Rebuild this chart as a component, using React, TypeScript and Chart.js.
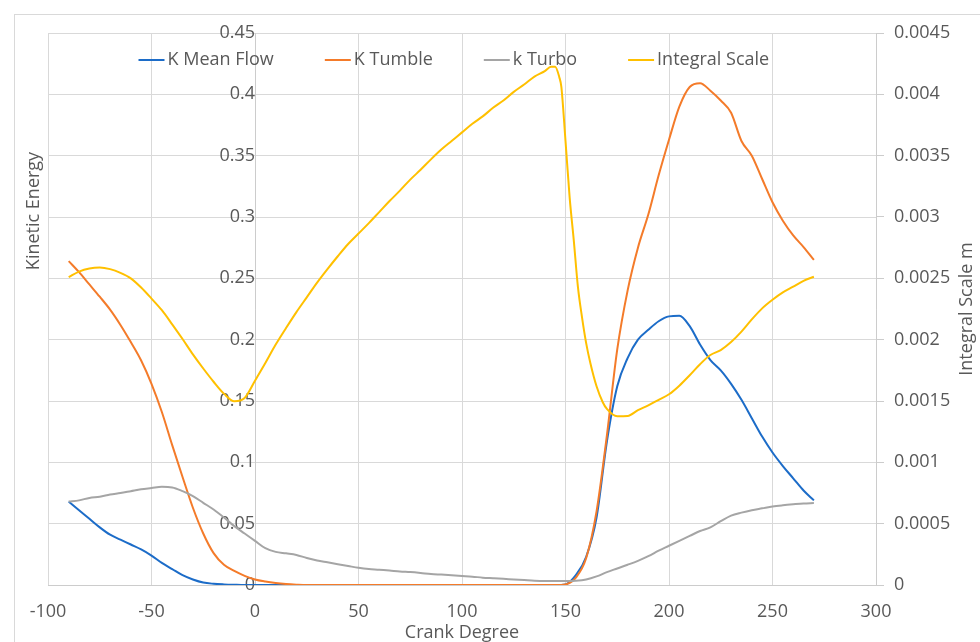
import React, { useEffect, useRef } from "react";
import { Chart, registerables } from "chart.js";

Chart.register(...registerables);

// ---------- data (10 values per row) ----------
const crankDeg = [
  -90, -85, -80, -75, -70, -65, -60, -55, -50, -45,
  -40, -35, -30, -25, -20, -15, -10, -5, 0, 5,
  10, 15, 20, 25, 30, 35, 40, 45, 50, 55,
  60, 65, 70, 75, 80, 85, 90, 95, 100, 105,
  110, 115, 120, 125, 130, 135, 140, 145, 150, 155,
  160, 165, 170, 175, 180, 185, 190, 195, 200, 205,
  210, 215, 220, 225, 230, 235, 240, 245, 250, 255,
  260, 265, 270,
];

const kMeanFlow = [
  0.068, 0.061, 0.054, 0.047, 0.041, 0.037, 0.033, 0.029, 0.024, 0.018,
  0.013, 0.008, 0.0045, 0.002, 0.001, 0.0005, 0.0002, 0, 0, 0,
  0, 0, 0, 0, 0, 0, 0, 0, 0, 0,
  0, 0, 0, 0, 0, 0, 0, 0, 0, 0,
  0, 0, 0, 0, 0, 0, 0, 0, 0.0005, 0.008,
  0.023, 0.055, 0.117, 0.162, 0.185, 0.2, 0.208, 0.215, 0.219, 0.2195,
  0.211, 0.196, 0.1834, 0.175, 0.164, 0.151, 0.136, 0.121, 0.108, 0.097,
  0.087, 0.077, 0.069,
];

const kTumble = [
  0.264, 0.255, 0.245, 0.235, 0.2245, 0.212, 0.198, 0.183, 0.164, 0.141,
  0.114, 0.088, 0.063, 0.042, 0.026, 0.0165, 0.0115, 0.0075, 0.0045, 0.0028,
  0.0016, 0.0008, 0.0003, 0, 0, 0, 0, 0, 0, 0,
  0, 0, 0, 0, 0, 0, 0, 0, 0, 0,
  0, 0, 0, 0, 0, 0, 0, 0, 0.0005, 0.006,
  0.022, 0.06, 0.122, 0.192, 0.24, 0.275, 0.302, 0.334, 0.363, 0.39,
  0.406, 0.409, 0.403, 0.395, 0.385, 0.362, 0.35, 0.331, 0.312, 0.297,
  0.285, 0.2755, 0.265,
];

const kTurbo = [
  0.068, 0.069, 0.071, 0.072, 0.0737, 0.075, 0.0765, 0.078, 0.079, 0.08,
  0.0795, 0.0765, 0.0725, 0.067, 0.0615, 0.055, 0.048, 0.042, 0.036, 0.03,
  0.027, 0.0258, 0.0245, 0.022, 0.02, 0.0185, 0.017, 0.0155, 0.014, 0.013,
  0.0125, 0.0118, 0.011, 0.0105, 0.0098, 0.009, 0.0085, 0.008, 0.0074, 0.0068,
  0.006, 0.0055, 0.005, 0.0045, 0.004, 0.0035, 0.0033, 0.0033, 0.0033, 0.0035,
  0.0045, 0.007, 0.0105, 0.0135, 0.0165, 0.0197, 0.0235, 0.028, 0.032, 0.036,
  0.04, 0.044, 0.047, 0.052, 0.0565, 0.059, 0.061, 0.0625, 0.064, 0.065,
  0.0658, 0.0665, 0.0668,
];

const integralDeg = [
  -90, -85, -80, -75, -70, -65, -60, -55, -50, -45,
  -40, -35, -30, -25, -20, -15, -10, -5, 0, 5,
  10, 15, 20, 25, 30, 35, 40, 45, 50, 55,
  60, 65, 70, 75, 80, 85, 90, 95, 100, 105,
  110, 115, 120, 125, 130, 135, 140, 143, 145, 147,
  148, 150, 152, 154, 156, 158, 160, 162, 165, 168,
  170, 175, 180, 185, 190, 195, 200, 205, 210, 215,
  220, 225, 230, 235, 240, 245, 250, 255, 260, 265,
  270,
];

const integralScale = [
  0.00251, 0.002555, 0.00258, 0.002588, 0.002575, 0.002545, 0.0025, 0.002425, 0.002335, 0.00224,
  0.002125, 0.002005, 0.00188, 0.001765, 0.001657, 0.00156, 0.001498, 0.001525, 0.001665, 0.00181,
  0.00196, 0.002095, 0.002225, 0.002345, 0.002465, 0.002575, 0.00268, 0.00278, 0.002865, 0.00295,
  0.00304, 0.00313, 0.003215, 0.003305, 0.003385, 0.00347, 0.00355, 0.00362, 0.00369, 0.00376,
  0.00382, 0.00389, 0.00395, 0.00402, 0.00408, 0.004145, 0.00419, 0.004225, 0.004225, 0.00414,
  0.00406, 0.00362, 0.00316, 0.00281, 0.00243, 0.00218, 0.00197, 0.00181, 0.00162, 0.00149,
  0.001435, 0.001375, 0.001378, 0.001425, 0.001465, 0.00151, 0.001555, 0.001625, 0.00171, 0.0018,
  0.001875, 0.001915, 0.00198, 0.002065, 0.002165, 0.002255, 0.002325, 0.002385, 0.002432, 0.00248,
  0.002513,
];

const seriesLabels = ["K Mean Flow", "K Tumble", "k Turbo", "Integral Scale"];
const seriesColors = ["#1c6cc8", "#f47b2a", "#a5a5a5", "#ffc000"];

const xTitle = "Crank Degree";
const yTitle = "Kinetic Energy";
const y2Title = "Integral Scale m";

// ---------- style ----------
const FONT = '"Open Sans", "Noto Sans", sans-serif';
const TEXT = "#595959";
const GRID = "#d9d9d9";
const AXIS = "#cccccc";

const fmt = (v: number | string) => String(parseFloat(Number(v).toFixed(6)));

const overlayPlugin = {
  id: "overlay",
  beforeDraw(chart: any) {
    const ctx = chart.ctx;
    ctx.save();
    ctx.fillStyle = "#ffffff";
    ctx.fillRect(0, 0, chart.width, chart.height);
    ctx.strokeStyle = GRID;
    ctx.lineWidth = 1;
    ctx.strokeRect(14.5, 14.5, chart.width + 20, chart.height + 20);
    ctx.restore();
  },
  afterDraw(chart: any) {
    const { ctx, chartArea } = chart;
    ctx.save();
    ctx.font = `18px ${FONT}`;
    ctx.fillStyle = TEXT;

    // x title
    ctx.textAlign = "center";
    ctx.textBaseline = "alphabetic";
    ctx.fillText(xTitle, (chartArea.left + chartArea.right) / 2, chart.height - 4);

    // left title
    ctx.save();
    ctx.translate(chartArea.left - 14, 211);
    ctx.rotate(-Math.PI / 2);
    ctx.textBaseline = "middle";
    ctx.fillText(yTitle, 0, 0);
    ctx.restore();

    // right title (reads bottom to top)
    ctx.save();
    ctx.translate(chart.width - 13, (chartArea.top + chartArea.bottom) / 2);
    ctx.rotate(-Math.PI / 2);
    ctx.textBaseline = "middle";
    ctx.fillText(y2Title, 0, 0);
    ctx.restore();

    // legend
    const lineLen = 26;
    const gap = 3;
    const spacing = 51;
    const ly = chartArea.top + 27;
    let x = chartArea.left + 90.5;
    ctx.textAlign = "left";
    ctx.textBaseline = "middle";
    chart.data.datasets.forEach((ds: any) => {
      ctx.strokeStyle = ds.borderColor;
      ctx.lineWidth = 2;
      ctx.beginPath();
      ctx.moveTo(x, ly);
      ctx.lineTo(x + lineLen, ly);
      ctx.stroke();
      ctx.fillStyle = TEXT;
      ctx.fillText(ds.label, x + lineLen + gap, ly);
      x += lineLen + gap + ctx.measureText(ds.label).width + spacing;
    });
    ctx.restore();
  },
};

export default function App() {
  const ref = useRef<HTMLCanvasElement>(null);

  useEffect(() => {
    if (!ref.current) return;
    Chart.defaults.font.family = FONT;
    Chart.defaults.font.size = 18;
    Chart.defaults.color = TEXT;

    const kSeries = [kMeanFlow, kTumble, kTurbo];
    const datasets: any[] = kSeries.map((vals, i) => ({
      label: seriesLabels[i],
      data: crankDeg.map((d, j) => ({ x: d, y: vals[j] })),
      borderColor: seriesColors[i],
      backgroundColor: seriesColors[i],
      yAxisID: "y",
      order: 4 - i,
    }));
    datasets.push({
      label: seriesLabels[3],
      data: integralDeg.map((d, j) => ({ x: d, y: integralScale[j] })),
      borderColor: seriesColors[3],
      backgroundColor: seriesColors[3],
      yAxisID: "y2",
      order: 1,
    });

    const chart = new Chart(ref.current, {
      type: "line",
      data: { datasets },
      options: {
        animation: false,
        responsive: false,
        layout: { padding: { left: 48, top: 33, right: 0, bottom: 0 } },
        elements: {
          point: { radius: 0, hoverRadius: 0 },
          line: { borderWidth: 2, tension: 0, cubicInterpolationMode: "monotone" },
        },
        plugins: { legend: { display: false }, tooltip: { enabled: false } },
        scales: {
          x: {
            type: "linear",
            min: -100,
            max: 300,
            ticks: { stepSize: 50, padding: 16, maxRotation: 0, callback: (v: any) => fmt(v), color: TEXT, font: { size: 18, family: FONT } },
            grid: { color: GRID, drawTicks: false, lineWidth: 1 },
            border: { display: true, color: AXIS },
            afterFit: (s: any) => { s.height = 57; },
          },
          y: {
            type: "linear",
            position: { x: 0 } as any,
            min: 0,
            max: 0.45,
            ticks: { stepSize: 0.05, padding: 21, callback: (v: any) => fmt(v), color: TEXT, font: { size: 18, family: FONT } },
            grid: { color: GRID, drawTicks: false, lineWidth: 1 },
            border: { display: true, color: AXIS },
          },
          y2: {
            type: "linear",
            position: "right",
            min: 0,
            max: 0.0045,
            ticks: { stepSize: 0.0005, padding: 10, callback: (v: any) => fmt(v), color: TEXT, font: { size: 18, family: FONT } },
            grid: { drawOnChartArea: false, drawTicks: true, tickLength: 8, color: AXIS },
            border: { display: true, color: AXIS },
            afterFit: (s: any) => { s.width = 104; },
          },
        },
      } as any,
      plugins: [overlayPlugin],
    });
    return () => chart.destroy();
  }, []);

  return (
    <div style={{ position: "fixed", left: 0, top: 0, width: 980, height: 642, background: "#fff" }}>
      <canvas ref={ref} width={980} height={642} style={{ display: "block" }} />
    </div>
  );
}
